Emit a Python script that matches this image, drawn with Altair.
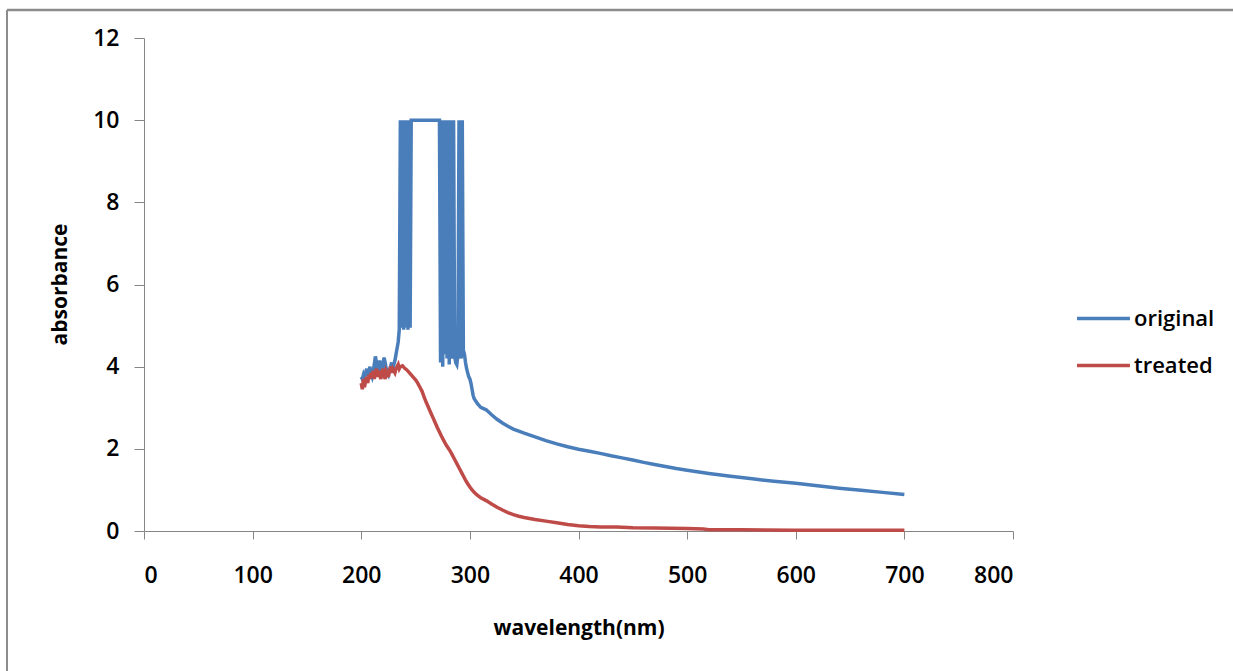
import altair as alt
import pandas as pd

# ---- data ----
orig_wl = list(range(200, 311)) + [315, 320, 325, 330, 335, 340, 345, 350, 360, 370, 380, 390,
                                   400, 410, 420, 430, 440, 450, 460, 470, 480, 490, 500, 520,
                                   540, 560, 580, 600, 620, 640, 660, 680, 700]
orig_abs = [
    3.75, 3.70, 3.80, 3.72, 3.85, 3.95, 3.78, 3.90, 4.00, 3.82,   # 200-209
    3.75, 3.88, 4.05, 4.25, 4.10, 3.90, 4.00, 4.15, 3.95, 3.85,   # 210-219
    4.05, 4.22, 4.10, 3.95, 3.85, 3.80, 3.90, 4.00, 4.10, 3.95,   # 220-229
    4.05, 4.15, 4.30, 4.45, 4.60, 4.90, 10.0, 4.95, 10.0, 4.90,   # 230-239
    10.0, 4.95, 10.0, 4.90, 10.0, 4.95, 10.0, 10.0, 10.0, 10.0,   # 240-249
    10.0, 10.0, 10.0, 10.0, 10.0, 10.0, 10.0, 10.0, 10.0, 10.0,   # 250-259
    10.0, 10.0, 10.0, 10.0, 10.0, 10.0, 10.0, 10.0, 10.0, 10.0,   # 260-269
    10.0, 10.0, 10.0, 4.10, 10.0, 4.00, 10.0, 4.30, 10.0, 4.20,   # 270-279
    10.0, 4.05, 10.0, 4.40, 4.20, 10.0, 4.25, 4.10, 4.05, 4.30,   # 280-289
    10.0, 4.35, 4.20, 10.0, 4.40, 4.30, 4.10, 3.95, 3.85, 3.75,   # 290-299
    3.70, 3.60, 3.45, 3.30, 3.22, 3.18, 3.14, 3.10, 3.07, 3.04, 3.01,  # 300-310
    2.95, 2.83, 2.72, 2.63, 2.55, 2.48, 2.43, 2.38, 2.29, 2.20, 2.12, 2.05,
    1.99, 1.94, 1.89, 1.83, 1.78, 1.73, 1.67, 1.62, 1.57, 1.52, 1.48, 1.40,
    1.33, 1.27, 1.21, 1.16, 1.10, 1.04, 0.99, 0.94, 0.89,
]

treat_wl = list(range(200, 236)) + list(range(236, 311, 2)) + [
    315, 320, 325, 330, 335, 340, 345, 350, 360, 370, 380, 390, 400, 410, 420, 435,
    450, 470, 500, 515, 520, 550, 600, 650, 700]
treat_abs = [
    3.60, 3.45, 3.70, 3.50, 3.65, 3.75, 3.60, 3.80, 3.70, 3.85,   # 200-209
    3.75, 3.90, 3.70, 3.85, 3.95, 3.75, 3.90, 3.80, 3.70, 3.85,   # 210-219
    3.95, 3.80, 3.70, 3.90, 3.85, 3.75, 3.90, 4.00, 3.85, 3.95,   # 220-229
    3.90, 3.85, 3.95, 4.00, 4.05, 3.95,                           # 230-235
    4.00, 4.02, 3.96, 3.92, 3.86, 3.80, 3.74, 3.68, 3.60, 3.50,   # 236-254
    3.40, 3.25, 3.12, 3.00, 2.88, 2.76, 2.64, 2.52, 2.41, 2.30,   # 256-274
    2.20, 2.10, 2.02, 1.94, 1.84, 1.74, 1.64, 1.54, 1.44, 1.34,   # 276-294
    1.24, 1.15, 1.07, 1.00, 0.94, 0.89, 0.85, 0.81,               # 296-310
    0.74, 0.66, 0.58, 0.51, 0.45, 0.40, 0.36, 0.33, 0.28, 0.24, 0.20, 0.16,
    0.13, 0.11, 0.10, 0.10, 0.08, 0.07, 0.06, 0.05, 0.03, 0.03, 0.02, 0.02, 0.02,
]

series_names = ["original", "treated"]
series_colors = ["#4A7EBB", "#BE4B48"]
x_ticks = [0, 100, 200, 300, 400, 500, 600, 700, 800]
y_ticks = [0, 2, 4, 6, 8, 10, 12]

df_o = pd.DataFrame({"wl": orig_wl, "a": orig_abs, "s": "original"})
df_t = pd.DataFrame({"wl": treat_wl, "a": treat_abs, "s": "treated"})

FONT = "Open Sans"
GRAY = "#868686"

x_enc = alt.X("wl:Q", scale=alt.Scale(domain=[0, 800], nice=False),
              axis=alt.Axis(values=x_ticks, title="wavelength(nm)", titleY=97,
                            titleBaseline="middle", labelPadding=25, tickSize=8))
y_enc = alt.Y("a:Q", scale=alt.Scale(domain=[0, 12], nice=False),
              axis=alt.Axis(values=y_ticks, title="absorbance", titleX=-84, titleY=246,
                            titleAngle=-90, titleAlign="center", titleBaseline="middle",
                            labelPadding=15, tickSize=10))
color_enc = alt.Color("s:N", scale=alt.Scale(domain=series_names, range=series_colors),
                      legend=alt.Legend(title=None, orient="none", legendX=931, legendY=252,
                                        symbolType="stroke", symbolSize=2800,
                                        symbolStrokeWidth=3.5, labelFontSize=22,
                                        labelFont=FONT, labelFontWeight=600,
                                        labelColor="#000000", labelOffset=2, rowPadding=7))

line_o = alt.Chart(df_o).mark_line(strokeWidth=3.5).encode(x=x_enc, y=y_enc, color=color_enc)
line_t = alt.Chart(df_t).mark_line(strokeWidth=3.5).encode(x=x_enc, y=y_enc, color=color_enc)

one = pd.DataFrame({"k": [0]})
frame_left = alt.Chart(one).mark_rule(color="#8c8c8c", strokeWidth=2).encode(
    x=alt.value(-137), y=alt.value(-28), y2=alt.value(700))
frame_top = alt.Chart(one).mark_rule(color="#8c8c8c", strokeWidth=2.5).encode(
    x=alt.value(-137), x2=alt.value(1200), y=alt.value(-28))

chart = alt.layer(frame_left, frame_top, line_o, line_t).properties(
    width=869, height=493,
    autosize=alt.AutoSizeParams(type="none"),
    padding={"left": 144, "top": 38, "right": 220, "bottom": 140},
    background="white",
).configure_view(stroke=None).configure_axis(
    grid=False, domainColor=GRAY, tickColor=GRAY, domainWidth=1, tickWidth=1,
    labelFont=FONT, labelFontSize=23, labelFontWeight=600, labelColor="#000000",
    titleFont=FONT, titleFontSize=21, titleFontWeight="bold", titleColor="#000000",
)

chart.save("out.html", embed_options={"renderer": "svg", "actions": False})
